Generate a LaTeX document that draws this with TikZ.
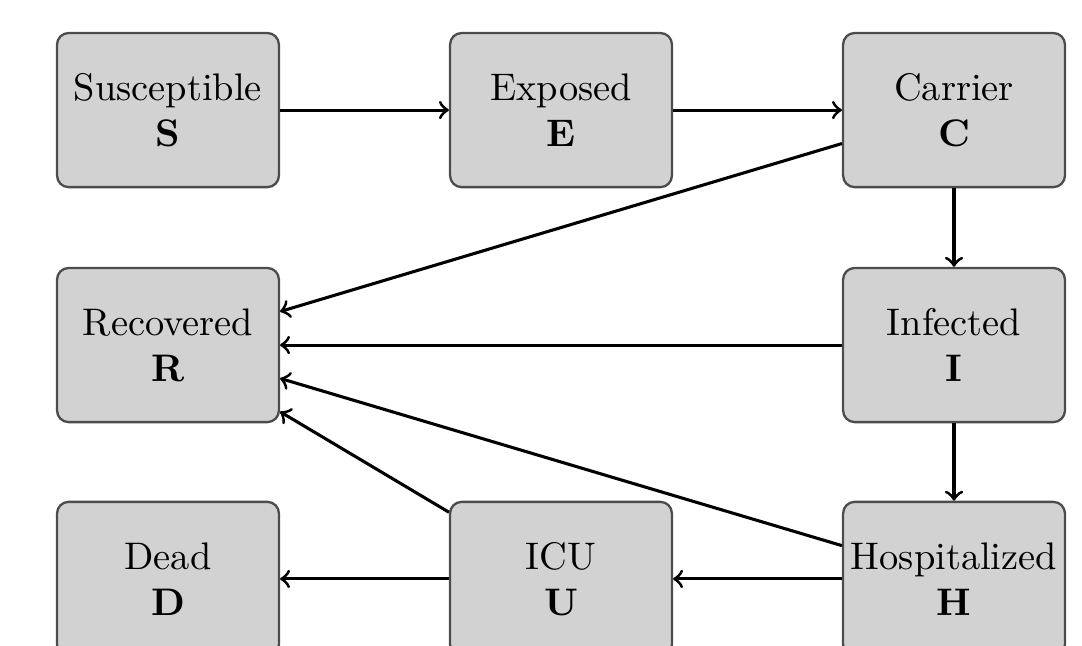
\documentclass[tikz,border=0pt]{standalone}
\usetikzlibrary{arrows}

\tikzset{
  compart/.style={draw=black!70, fill=gray!35, rounded corners=3pt, semithick,
    minimum width=2.03cm, minimum height=1.41cm, inner sep=0pt, align=center},
  flow/.style={->, thick}
}

\begin{document}
\begin{tikzpicture}[>=to]
\clip (-1.537,-4.903) rectangle (8.363,1.007);

\node[compart] (S) at (0,0) {Susceptible\\ \textbf{S}};
\node[compart] (E) at (3.596,0) {Exposed\\ \textbf{E}};
\node[compart] (C) at (7.192,0) {Carrier\\ \textbf{C}};
\node[compart] (R) at (0,-2.15) {Recovered\\ \textbf{R}};
\node[compart] (I) at (7.192,-2.15) {Infected\\ \textbf{I}};
\node[compart] (D) at (0,-4.29) {Dead\\ \textbf{D}};
\node[compart] (U) at (3.596,-4.29) {ICU\\ \textbf{U}};
\node[compart] (H) at (7.192,-4.29) {Hospitalized\\ \textbf{H}};

\draw[flow] (S)--(E);
\draw[flow] (E)--(C);
\draw[flow] (C)--(I);
\draw[flow] (I)--(H);
\draw[flow] (C)--(R);
\draw[flow] (I)--(R);
\draw[flow] (H)--(R);
\draw[flow] (U)--(R);
\draw[flow] (H)--(U);
\draw[flow] (U)--(D);
\end{tikzpicture}
\end{document}
